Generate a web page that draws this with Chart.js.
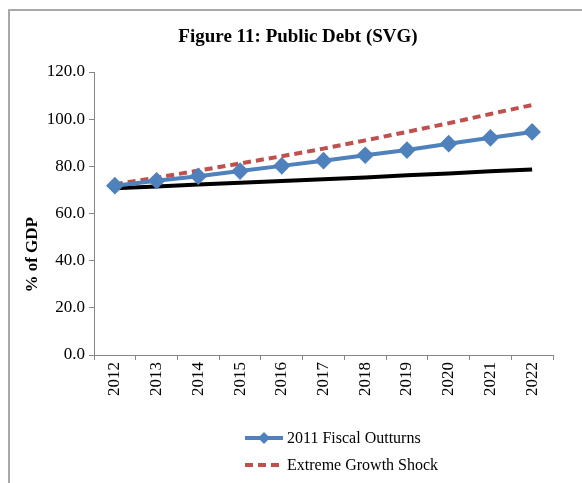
<!DOCTYPE html>
<html>
<head>
<meta charset="utf-8">
<script src="https://cdn.jsdelivr.net/npm/chart.js@4/dist/chart.umd.min.js"></script>
<style>
  html, body { margin: 0; padding: 0; background: #fff; }
  #wrap { position: relative; width: 582px; height: 483px; overflow: hidden; }
  #frame { position: absolute; left: 8px; top: 9px; width: 600px; height: 500px;
           border-top: 2px solid #a8a8a8; border-left: 2px solid #a8a8a8; }
  canvas { position: absolute; left: 0; top: 0; }
  #legend { position: absolute; left: 244px; top: 424px; font: 16px "Liberation Serif", serif; color: #000; }
  #legend .row { display: flex; align-items: center; height: 27px; }
  #legend svg { margin-right: 3px; }
</style>
</head>
<body>
<div id="wrap">
  <div id="frame"></div>
  <canvas id="c" width="582" height="483"></canvas>
  <div id="legend"></div>
</div>
<script>
'use strict';

// ── Data ─────────────────────────────────────────────────────────────────────
const years    = ['2012','2013','2014','2015','2016','2017','2018','2019','2020','2021','2022'];
const outturns = [71.8, 73.9, 75.8, 78.0, 80.2, 82.4, 84.7, 86.9, 89.6, 92.1, 94.6];
const shock    = [72.4, 75.2, 78.2, 81.2, 84.3, 87.5, 91.0, 94.6, 98.3, 102.2, 106.0];
const baseline = [70.7, 71.5, 72.3, 73.0, 73.8, 74.5, 75.3, 76.2, 77.0, 77.9, 78.7];

const BLUE = '#4f81bd';
const RED  = '#c0504d';
const SERIF = '"Liberation Serif", "Times New Roman", serif';

// ── Titles drawn on the canvas (chart title + y-axis title) ──────────────────
const titles = {
  id: 'titles',
  afterDraw(chart) {
    const y = chart.scales.y;
    const ctx = chart.ctx;
    ctx.save();
    ctx.fillStyle = '#000';
    ctx.textAlign = 'center';
    ctx.textBaseline = 'middle';
    ctx.font = 'bold 19px ' + SERIF;
    ctx.fillText('Figure 11: Public Debt (SVG)', 298, 37);
    ctx.translate(33, y.getPixelForValue(42.5));
    ctx.rotate(-Math.PI / 2);
    ctx.font = 'bold 17px ' + SERIF;
    ctx.fillText('% of GDP', 0, 0);
    ctx.restore();
  }
};

new Chart(document.getElementById('c'), {
  type: 'line',
  data: {
    labels: years,
    datasets: [
      { label: '2011 Fiscal Outturns', data: outturns, borderColor: BLUE, backgroundColor: BLUE,
        borderWidth: 4, pointStyle: 'rectRot', pointRadius: 6, pointHoverRadius: 6, order: 1 },
      { label: 'Extreme Growth Shock', data: shock, borderColor: RED, borderDash: [8, 5],
        borderWidth: 4, pointRadius: 0, order: 2 },
      { label: 'Baseline', data: baseline, borderColor: '#000', borderWidth: 4,
        pointRadius: 0, order: 3 }
    ]
  },
  options: {
    responsive: false,
    animation: false,
    layout: { padding: { left: 0, right: 29, top: 72, bottom: 68 } },
    plugins: {
      legend: { display: false },
      tooltip: { enabled: false },
      title: { display: false }
    },
    scales: {
      x: {
        offset: true,
        grid: { display: true, drawOnChartArea: false, offset: true, color: '#868686', tickLength: 5 },
        border: { color: '#868686', width: 1 },
        ticks: { color: '#000', font: { family: SERIF, size: 17 }, minRotation: 90, maxRotation: 90, padding: 2 },
        afterFit(s) { s.height = 60; }
      },
      y: {
        min: 0, max: 120,
        grid: { display: true, drawOnChartArea: false, color: '#868686', tickLength: 5 },
        border: { color: '#868686', width: 1 },
        ticks: { stepSize: 20, color: '#000', font: { family: SERIF, size: 17 }, padding: 4,
                 callback: v => v.toFixed(1) },
        afterFit(s) { s.width = 94; }
      }
    }
  },
  plugins: [titles]
});

// ── HTML legend (two entries, stacked) ───────────────────────────────────────
const legend = document.getElementById('legend');
legend.innerHTML =
  '<div class="row"><svg width="40" height="14"><line x1="1" y1="7" x2="39" y2="7" stroke="' + BLUE + '" stroke-width="4"/>' +
  '<polygon points="20,1 26,7 20,13 14,7" fill="' + BLUE + '"/></svg><span>2011 Fiscal Outturns</span></div>' +
  '<div class="row"><svg width="40" height="14"><line x1="1" y1="7" x2="36" y2="7" stroke="' + RED + '" stroke-width="4" stroke-dasharray="8,5"/></svg>' +
  '<span>Extreme Growth Shock</span></div>';
</script>
</body>
</html>
